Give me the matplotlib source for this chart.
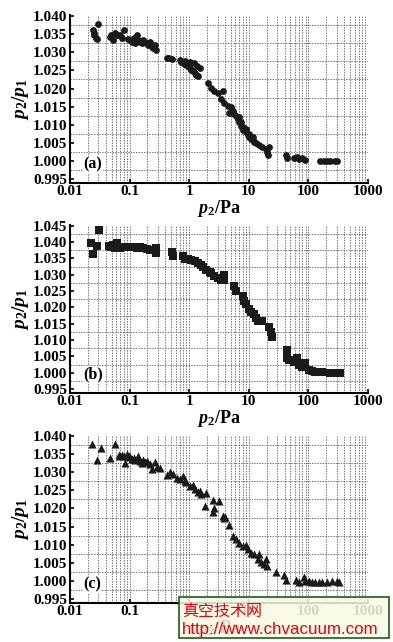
import numpy as np
import matplotlib
matplotlib.use("Agg")
import matplotlib.pyplot as plt
from matplotlib.patches import Rectangle

plt.rcParams['font.family'] = ['Liberation Serif', 'DejaVu Serif']
plt.rcParams['mathtext.fontset'] = 'custom'
plt.rcParams['mathtext.it'] = 'Liberation Serif:italic:bold'
plt.rcParams['mathtext.rm'] = 'Liberation Serif:bold'
plt.rcParams['mathtext.bf'] = 'Liberation Serif:bold'

# (a) circles
a_x = [0.0245, 0.0251, 0.0258, 0.0271, 0.0301, 0.0286,
       0.0464, 0.0489, 0.0528, 0.0577, 0.0615, 0.0681, 0.0794, 0.0745,
       0.0926, 0.100, 0.109, 0.117, 0.124, 0.133, 0.141, 0.151, 0.161,
       0.171, 0.182, 0.194, 0.207, 0.221, 0.236, 0.251, 0.268, 0.278,
       0.430, 0.464, 0.508, 0.699, 0.745, 0.794, 0.847, 0.903, 0.962,
       1.03, 1.09, 1.17, 1.24, 1.32, 1.41, 1.03, 1.19, 1.35, 1.50,
       2.07, 2.36, 2.66, 3.03, 3.67, 3.43, 3.91, 4.44, 5.05, 5.38, 5.74,
       4.73, 6.11, 6.52, 6.95, 7.41, 7.90, 8.42, 8.98, 9.57, 10.2, 10.9,
       11.6, 12.4, 13.2, 15.0, 17.0, 22.0, 19.3, 20.6, 21.4,
       7.90, 8.98, 10.2, 11.6, 7.41, 6.8,
       41.7, 44.5, 57.4, 65.2, 69.5, 79.0, 89.8,
       160, 181, 206, 234, 277, 303]
a_y = [1.0362, 1.0353, 1.0346, 1.0339, 1.0377, 1.0335,
       1.0342, 1.0348, 1.0333, 1.0353, 1.0346, 1.0346, 1.0362, 1.0339,
       1.0337, 1.0333, 1.0328, 1.0339, 1.0324, 1.0346, 1.0333, 1.0328, 1.0324,
       1.0333, 1.0328, 1.0324, 1.0319, 1.0328, 1.0315, 1.0310, 1.0319, 1.0306,
       1.0284, 1.0285, 1.0281, 1.0279, 1.0274, 1.0270, 1.0276, 1.0265, 1.0261,
       1.0256, 1.0252, 1.0247, 1.0243, 1.0238, 1.0234, 1.0274, 1.0270, 1.0261, 1.0255,
       1.0216, 1.0202, 1.0193, 1.0188, 1.0193, 1.0170, 1.0161, 1.0152, 1.0148, 1.0139, 1.0130,
       1.0134, 1.0125, 1.0116, 1.0107, 1.0098, 1.0094, 1.0085, 1.0080, 1.0071, 1.0067, 1.0062,
       1.0058, 1.0053, 1.0049, 1.0044, 1.0040, 1.0040, 1.0035, 1.0026, 1.0017,
       1.0085, 1.0089, 1.0076, 1.0067, 1.0107, 1.0121,
       1.0017, 1.0008, 1.0008, 1.0013, 1.0006, 1.0008, 1.0004,
       1.0002, 1.0001, 1.0001, 1.0001, 1.0002, 1.0002]

# (b) squares
b_x = [0.0227, 0.0245, 0.0286, 0.0304,
       0.0447, 0.0489, 0.0528, 0.0577, 0.0615, 0.0656, 0.0699, 0.0794,
       0.0903, 0.103, 0.117, 0.133, 0.151, 0.171, 0.194, 0.221, 0.251,
       0.278, 0.278, 0.514, 0.541, 0.794, 0.847, 0.962, 1.09, 1.24, 1.41,
       1.61, 1.71, 1.95, 2.21, 2.34, 2.66, 3.03, 3.44, 3.91, 3.91,
       5.74, 6.11, 7.90, 8.42, 8.98, 10.2, 10.9, 12.4, 13.2, 14.1, 17.0,
       22.0, 23.4, 24.3, 44.5, 44.5, 47.4, 57.4, 65.2, 69.5, 79.0, 89.8,
       102, 116, 132, 170, 234, 284, 343]
b_y = [1.0398, 1.0364, 1.0388, 1.0436,
       1.0388, 1.0386, 1.0391, 1.0381, 1.0396, 1.0386, 1.0381, 1.0384,
       1.0386, 1.0384, 1.0384, 1.0381, 1.0384, 1.0381, 1.0378, 1.0376, 1.0376,
       1.0381, 1.0366, 1.0368, 1.0358, 1.0356, 1.0348, 1.0348, 1.0346, 1.0341, 1.0335,
       1.0330, 1.0325, 1.0315, 1.0307, 1.0305, 1.0295, 1.0290, 1.0285, 1.0285, 1.0300,
       1.0265, 1.0250, 1.0235, 1.0220, 1.0210, 1.0195, 1.0185, 1.0180, 1.0169, 1.0159, 1.0159,
       1.0139, 1.0124, 1.0109, 1.0069, 1.0044, 1.0039, 1.0034, 1.0044, 1.0024, 1.0019, 1.0029,
       1.0009, 1.0005, 1.0003, 1.0001, 1.0000, 1.0000, 1.0000]

# (c) triangles
c_x = [0.0239, 0.0285, 0.0329, 0.0476, 0.0562,
       0.0656, 0.0699, 0.0745, 0.0794, 0.0847, 0.0903, 0.0962, 0.103,
       0.109, 0.117, 0.124, 0.133, 0.141, 0.151, 0.161, 0.171, 0.182,
       0.194, 0.221, 0.236, 0.268, 0.286, 0.325,
       0.419, 0.476, 0.541, 0.615, 0.699, 0.794, 0.847, 0.903, 1.03,
       1.17, 1.24, 1.41, 1.51, 1.61, 1.82, 1.95,
       2.5, 2.66, 2.5, 3.23, 3.67, 3.91, 4.0, 4.73, 5.38, 6.11, 6.95,
       7.9, 8.98, 9.57, 10.9, 12.4, 15.0, 14.1, 16.0, 18.2, 20.6, 19.3,
       28.4, 39.1, 41.7, 61.1, 69.5, 84.1, 89.8, 102, 116, 132, 150,
       170, 206, 250, 303, 323]
c_y = [1.0377, 1.0333, 1.0366, 1.0339, 1.0378,
       1.0348, 1.0345, 1.0348, 1.0343, 1.0326, 1.0351, 1.0345, 1.0342,
       1.0335, 1.0339, 1.0333, 1.0336, 1.0343, 1.0330, 1.0326, 1.0333, 1.0327,
       1.0330, 1.0321, 1.0308, 1.0327, 1.0315, 1.0312,
       1.0291, 1.0300, 1.0294, 1.0285, 1.0281, 1.0288, 1.0276, 1.0272, 1.0263,
       1.0265, 1.0254, 1.0245, 1.0249, 1.0240, 1.0207, 1.0243,
       1.0222, 1.0200, 1.0191, 1.0220, 1.0180, 1.0173, 1.0178, 1.0155, 1.0124, 1.0115, 1.0106,
       1.0097, 1.0101, 1.0088, 1.0079, 1.0074, 1.0074, 1.0061, 1.0052, 1.0048, 1.0043, 1.0061,
       1.0025, 1.0016, 1.0003, 1.0003, 0.9998, 1.0012, 1.0001, 1.0001, 0.9997, 0.9999, 0.9997,
       0.9998, 0.9998, 1.0000, 1.0001, 0.9997]

panels = [
    ("(a)", a_x, a_y, "o", 24, (0.9941, 1.0402), [0.995, 1.000, 1.005, 1.010, 1.015, 1.020, 1.025, 1.030, 1.035, 1.040]),
    ("(b)", b_x, b_y, "s", 28, (0.9939, 1.0452), [0.995, 1.000, 1.005, 1.010, 1.015, 1.020, 1.025, 1.030, 1.035, 1.040, 1.045]),
    ("(c)", c_x, c_y, "^", 34, (0.9941, 1.0402), [0.995, 1.000, 1.005, 1.010, 1.015, 1.020, 1.025, 1.030, 1.035, 1.040]),
]
bottoms = [0.7154, 0.3883, 0.0612]

fig = plt.figure(figsize=(3.93, 6.42), dpi=100)
xticks = [0.01, 0.1, 1, 10, 100, 1000]
xminor = [m * 10.0 ** e for e in range(-2, 3) for m in range(2, 10)]

for (lab, xs, ys, mk, sz, ylim, yticks), b in zip(panels, bottoms):
    ax = fig.add_axes([0.178, b, 0.758, 0.2612])
    ax.set_xscale('log')
    ax.set_xlim(0.01, 1000)
    ax.set_ylim(*ylim)
    # dotted grid: every log step, half-steps in y
    for v in xminor + xticks[1:]:
        ax.axvline(v, color='#777777', lw=0.7, ls=(0, (1.5, 1.2)), zorder=0)
    for t in yticks[:-1]:
        ax.axhline(t + 0.0025, color='#777777', lw=0.7, ls=(0, (1.5, 1.2)), zorder=0)
    ax.scatter(xs, ys, marker=mk, s=sz, color='#1a1a1a', linewidths=0, zorder=3)
    ax.set_xticks(xticks)
    ax.set_xticklabels(['0.01', '0.1', '1', '10', '100', '1000'])
    ax.set_xticks([], minor=True)
    ax.set_yticks(yticks)
    ax.set_yticklabels(['%.3f' % t for t in yticks])
    ax.tick_params(direction='in', length=3, width=1.2, labelsize=11, pad=2)
    for t in ax.get_xticklabels() + ax.get_yticklabels():
        t.set_fontweight('bold')
    ax.spines['top'].set_visible(False)
    ax.spines['right'].set_visible(False)
    ax.spines['left'].set_linewidth(1.5)
    ax.spines['bottom'].set_linewidth(1.5)
    ax.set_ylabel(r'$p_2/p_1$', fontsize=14, labelpad=1)
    ax.set_xlabel(r'$p_2$/Pa', fontsize=13, labelpad=0, fontweight='bold')
    ax.text(0.045, 0.11, lab, transform=ax.transAxes, fontsize=11.5, fontweight='bold',
            va='center', ha='left', zorder=4,
            bbox=dict(facecolor='white', edgecolor='none', pad=0.5))

# watermark box, semi-transparent like the scan
fig.patches.append(Rectangle((0.456, 0.006), 0.534, 0.064, transform=fig.transFigure,
                             facecolor=(0.98, 0.98, 0.9, 0.85), edgecolor='#1f5a1f',
                             lw=1.2, zorder=10))
fig.text(0.463, 0.047, '真空技术网', color='#e8000b', fontsize=11.5,
         family=['Noto Sans CJK SC', 'DejaVu Sans'], va='center', ha='left', zorder=11)
fig.text(0.463, 0.020, 'http://www.chvacuum.com', color='#e8000b', fontsize=12.2,
         family=['Liberation Sans', 'DejaVu Sans'], va='center', ha='left', zorder=11)

fig.savefig('out.png', dpi=100)
